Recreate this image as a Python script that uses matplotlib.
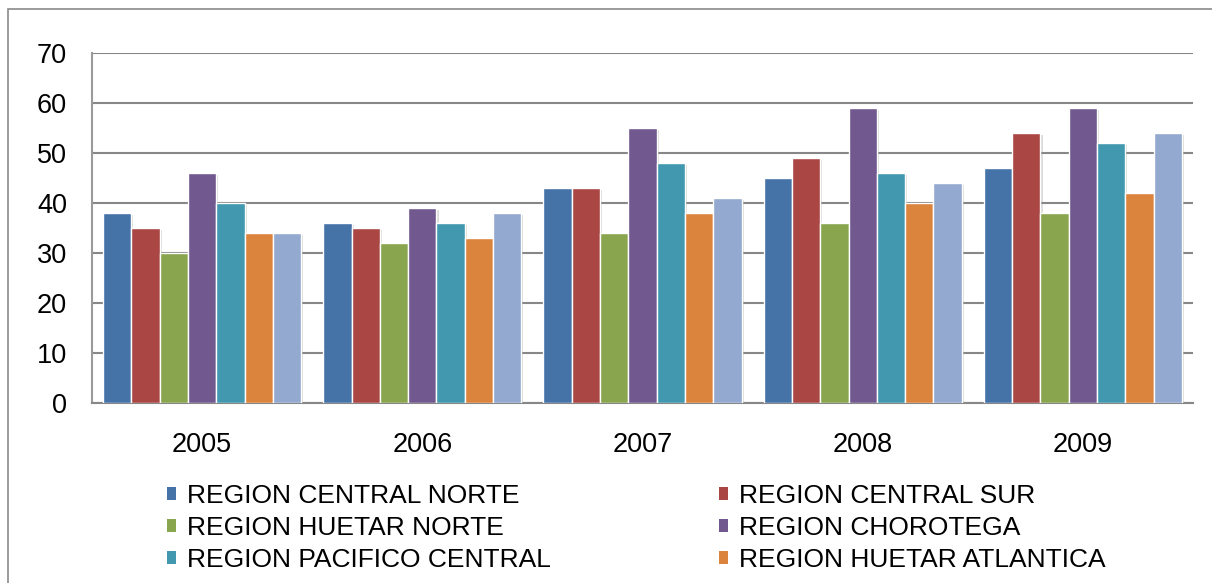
import numpy as np
import matplotlib
matplotlib.use("Agg")
import matplotlib.pyplot as plt
import matplotlib.patheffects as pe
from matplotlib.patches import Rectangle, Patch

plt.rcParams['font.family'] = ['Liberation Sans', 'DejaVu Sans']

years = ['2005', '2006', '2007', '2008', '2009']
regions = ['REGION CENTRAL NORTE', 'REGION CENTRAL SUR', 'REGION HUETAR NORTE',
           'REGION CHOROTEGA', 'REGION PACIFICO CENTRAL', 'REGION HUETAR ATLANTICA',
           'REGION BRUNCA']
central_norte = [38, 36, 43, 45, 47]
central_sur = [35, 35, 43, 49, 54]
huetar_norte = [30, 32, 34, 36, 38]
chorotega = [46, 39, 55, 59, 59]
pacifico_central = [40, 36, 48, 46, 52]
huetar_atlantica = [34, 33, 38, 40, 42]
brunca = [34, 38, 41, 44, 54]

series = [central_norte, central_sur, huetar_norte, chorotega,
          pacifico_central, huetar_atlantica, brunca]
colors = ['#4572A7', '#AA4643', '#89A54E', '#71588F', '#4198AF', '#DB843D', '#93A9CF']

fig = plt.figure(figsize=(12.12, 5.83), dpi=100)
ax = fig.add_axes([92 / 1212, 1 - 403 / 583, (1193 - 92) / 1212, 350 / 583])

# outer chart frame (right and bottom edges fall outside the canvas)
fig.patches.append(Rectangle((8 / 1212, -0.1), 1.2, 1 - 9 / 583 + 0.1,
                             transform=fig.transFigure, fill=False,
                             edgecolor='#8a8a8a', linewidth=1.2))

x = np.arange(len(years))
n = len(series)
w = 0.9 / n
shadow = [pe.SimplePatchShadow(offset=(1.5, -1.5), shadow_rgbFace='#999999', alpha=0.35),
          pe.Normal()]
for i, (vals, c) in enumerate(zip(series, colors)):
    bars = ax.bar(x - 0.45 + w * (i + 0.5), vals, width=w, color=c,
                  edgecolor='white', linewidth=1.0, zorder=3)
    for b in bars:
        b.set_path_effects(shadow)

ax.set_xlim(-0.5, len(years) - 0.5)
ax.set_ylim(0, 70)
ax.set_yticks(range(0, 71, 10))
ax.set_xticks(x)
ax.set_xticklabels(years)
ax.yaxis.grid(True, color='#878787', linewidth=1.5, zorder=0)
ax.set_axisbelow(True)
ax.tick_params(axis='both', length=0, labelsize=19.5)
ax.tick_params(axis='x', pad=21)
ax.tick_params(axis='y', pad=18)
for s in ['top', 'right']:
    ax.spines[s].set_visible(False)
ax.spines['left'].set_color('#9a9a9a')
ax.spines['left'].set_linewidth(1.5)
ax.spines['bottom'].set_color('#878787')
ax.spines['bottom'].set_linewidth(1.5)

handles = [Patch(facecolor=c) for c in colors]
common = dict(frameon=False, fontsize=19, handlelength=0.34, handleheight=0.34,
              handletextpad=0.42, labelspacing=0.3, borderpad=0, borderaxespad=0,
              loc='upper left')
leg1 = fig.legend(handles[0:6:2], regions[0:6:2],
                  bbox_to_anchor=(167 / 1212, 1 - 484 / 583), **common)
leg2 = fig.legend(handles[1:6:2], regions[1:6:2],
                  bbox_to_anchor=(719 / 1212, 1 - 484 / 583), **common)

fig.savefig('out.png', dpi=100)
